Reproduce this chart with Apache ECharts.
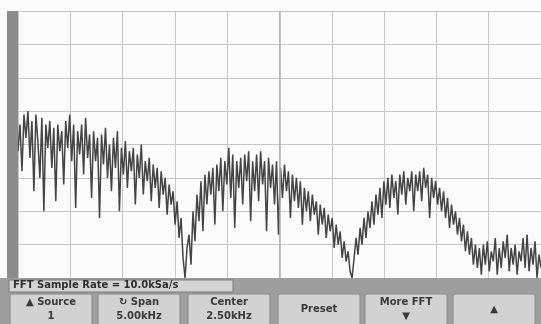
<!DOCTYPE html>
<html><head><meta charset="utf-8">
<script src="https://cdn.jsdelivr.net/npm/echarts@6/dist/echarts.min.js"></script>
<style>html,body{margin:0;padding:0;background:#fbfbfb;}#c{width:541px;height:324px;}</style>
</head><body><div id="c"></div>
<script>
// FFT magnitude trace (vertical divisions, 0 = bottom of screen, 8 = top)
var lobe1 = [3.8,4.6,3.2,4.9,4.2,5.0,3.6,4.7,2.6,4.9,4.1,3.0,4.8,2.0,4.6,3.9,4.7,3.3,4.5,2.3,4.6,3.8,4.4,2.8,4.7,3.9,4.9,3.5,4.6,2.1,4.4,3.7,4.6,3.1,4.8,3.6,4.3,2.4,4.4,3.5,4.2,1.8,4.3,3.4,4.5,3.0,4.0,2.6,4.2,3.3,4.4,2.0,3.9,3.1,4.1,2.7,3.8,3.2,3.9,2.2,3.7,3.0,4.0,2.5,3.5,2.9,3.6,2.3,3.4,2.7,3.3,2.1,3.2,2.5,3.0,1.9,2.8,2.2,2.6,1.6,2.3,1.2,1.8,0.6,0.0,0.9];
var lobe2 = [1.3,0.4,2.0,1.1,2.5,1.7,2.9,1.4,3.1,2.2,3.2,2.5,3.3,1.6,3.4,2.6,3.6,2.0,3.5,2.8,3.9,2.4,3.7,1.5,3.5,2.7,3.6,2.2,3.7,2.9,3.8,1.7,3.5,2.6,3.7,2.3,3.8,2.8,3.5,1.4,3.6,2.7,3.4,2.2,3.5,1.3,3.3,2.4,3.4,2.6,3.2,1.8,3.1,2.3,3.0,2.1,2.9,1.6,2.7,2.0,2.6,1.7,2.5,1.9,2.3,1.3,2.2,1.6,2.1,1.2,1.9,1.4,1.8,0.9,1.6,1.0,1.4,0.6,1.1,0.5,0.8,0.2,0.0,0.6];
var lobe3 = [1.2,0.7,1.5,1.0,1.8,1.2,2.0,1.5,2.3,1.6,2.5,1.9,2.7,1.8,2.9,2.2,3.0,2.1,3.1,2.4,2.9,1.9,3.1,2.5,3.2,2.2,3.0,2.6,3.2,2.0,3.1,2.6,3.2,2.3,3.3,2.7,3.1,1.8,3.0,2.4,2.9,2.2,2.7,2.0,2.6,1.8,2.4,1.5,2.2,1.6,2.0,1.3,1.8,1.1,1.6,0.8,1.4,0.7,1.2,0.4,1.0,0.3];
var floorNoise = [0.9,0.1,1.0,0.4,1.1,0.2,0.8,0.5,1.2,0.1,0.9,0.3,1.1,0.6,1.3,0.2,0.9,0.4,1.0,0.1,0.8,0.5,1.2,0.3,1.3,0.2,0.9,0.4,1.1,0.0,0.7,0.3];
var trace = lobe1.concat(lobe2, lobe3, floorNoise);
var spanKHz = 5.0;
var sampleRateText = 'FFT Sample Rate = 10.0kSa/s';
var buttonTop = ['\u25B2 Source', '\u21BB Span', 'Center', 'Preset', 'More FFT', '\u25B2'];
var buttonBottom = ['1', '5.00kHz', '2.50kHz', '', '\u25BC', ''];

var n = trace.length;
var data = trace.map(function (v, i) { return [i * spanKHz / (n - 1), v]; });

var chart = echarts.init(document.getElementById('c'), null, {renderer: 'canvas'});
var graphics = [
  {type: 'rect', shape: {x: 7, y: 11, width: 11, height: 268}, style: {fill: '#8c8c8c'}, z: 10},
  {type: 'rect', shape: {x: 0, y: 278, width: 541, height: 46}, style: {fill: '#9e9e9e'}, z: 10},
  {type: 'rect', shape: {x: 9, y: 280, width: 224, height: 12}, style: {fill: '#d4d4d4', stroke: '#7a7a7a', lineWidth: 1}, z: 11},
  {type: 'text', left: 13, top: 280, style: {text: sampleRateText, fill: '#2e2e2e', font: 'bold 10px "DejaVu Sans"'}, z: 12}
];
var bx = [10, 98, 188, 278, 365, 453];
for (var k = 0; k < bx.length; k++) {
  graphics.push({type: 'rect', shape: {x: bx[k], y: 294, width: 82, height: 32, r: 2}, style: {fill: '#d2d2d2', stroke: '#8a8a8a', lineWidth: 1}, z: 11});
  var single = buttonBottom[k] === '';
  graphics.push({type: 'text', x: bx[k] + 41, y: single ? 309 : 302, style: {text: buttonTop[k], fill: '#3a3a3a', font: 'bold 10px "DejaVu Sans"', textAlign: 'center', textVerticalAlign: 'middle'}, z: 12});
  if (!single) {
    graphics.push({type: 'text', x: bx[k] + 41, y: 316, style: {text: buttonBottom[k], fill: '#3a3a3a', font: 'bold 10px "DejaVu Sans"', textAlign: 'center', textVerticalAlign: 'middle'}, z: 12});
  }
}

chart.setOption({
  backgroundColor: '#fbfbfb',
  animation: false,
  grid: {left: 18, top: 11, width: 526, height: 267},
  xAxis: {type: 'value', min: 0, max: spanKHz, interval: 0.5,
    axisLine: {show: false}, axisTick: {show: false}, axisLabel: {show: false},
    splitLine: {show: true, lineStyle: {color: '#c6c6c6', width: 1}}},
  yAxis: {type: 'value', min: 0, max: 8, interval: 1,
    axisLine: {show: false}, axisTick: {show: false}, axisLabel: {show: false},
    splitLine: {show: true, lineStyle: {color: '#c6c6c6', width: 1}}},
  series: [{
    type: 'line', data: data, symbol: 'none',
    lineStyle: {color: '#444444', width: 1.5},
    markLine: {silent: true, symbol: 'none', label: {show: false},
      lineStyle: {color: '#b0b0b0', type: 'solid', width: 1.5},
      data: [{xAxis: 2.5}]}
  }],
  graphic: graphics
});
</script>
</body></html>
